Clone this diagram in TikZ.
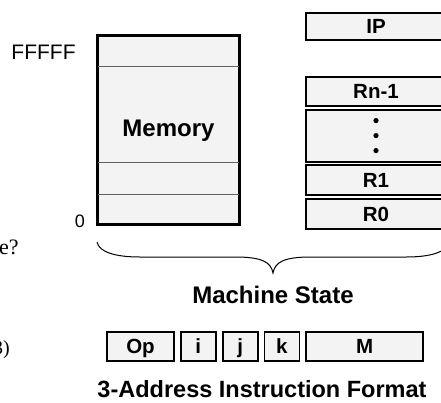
\documentclass[tikz,border=0pt]{standalone}
\usepackage{fontspec}
\setmainfont{Liberation Sans}
\newfontfamily\slidefont{Liberation Serif}
\usetikzlibrary{positioning,calc}
\definecolor{cf}{RGB}{243,243,243}
\definecolor{cl}{RGB}{95,95,95}
\tikzset{
  reg/.style={rectangle,draw=black,fill=cf,line width=1.8pt,inner sep=0pt,
    minimum width=#1,minimum height=29pt,text height=14.5pt,text depth=0pt,
    font=\fontsize{20.5}{22}\selectfont\bfseries},
  reg/.default=140pt,
  fld/.style={rectangle,draw=black,fill=cf,line width=1.8pt,inner sep=0pt,
    minimum width=#1,minimum height=29pt,text height=14.5pt,text depth=0pt,
    font=\fontsize{20.5}{22}\selectfont\bfseries},
  fld/.default=35pt,
  ttl/.style={inner sep=0pt,font=\fontsize{24}{26}\selectfont\bfseries},
  addr/.style={inner sep=0pt,font=\fontsize{#1}{#1}\selectfont},
  addr/.default=20pt,
  brace/.style={line width=1pt,black},
}

\begin{document}
\begin{tikzpicture}[x=1pt,y=-1pt,node distance=1.8pt]
    \useasboundingbox (0,0) rectangle (441,402);
    \node[reg=141pt,minimum height=188pt,text height=17pt,text depth=5pt,
      font=\fontsize{24}{26}\selectfont\bfseries] (mem) at (168.5,130) {Memory};
    \foreach \yy in {66,162,194}
      \draw[cl,line width=1pt] (mem.west |- 0,\yy) -- (mem.east |- 0,\yy);
    \draw[line width=1.8pt] (mem.north west) rectangle (mem.south east);
    \node[addr=21pt] (hi) at (43.5,52) {FFFFF};
    \node[addr=18pt] (lo) at (80,221.5) {0};
    \node[reg,minimum height=27pt] (ip) at (376,26.5) {IP};
    \node[reg] (rn) at (376,91.5) {Rn-1};
    \node[reg,minimum height=52pt,below=of rn] (dots) {};
    \foreach \dy in {-15,0,15}
      \fill ($(dots.center)+(0,\dy)$) circle (2.6pt);
    \node[reg,minimum height=30pt,below=of dots] (r1) {R1};
    \node[reg,minimum height=30pt,below=of r1] (r0) {R0};
    \draw[brace] (97,242) .. controls (99,252) and (115,257) .. (140,257)
      -- (235,257) .. controls (262,257) and (271,262) .. (273,273)
      .. controls (275,262) and (284,257) .. (311,257)
      -- (406,257) .. controls (431,257) and (447,252) .. (449,242);
    \node[ttl] (ms) at (273,295) {Machine State};
    \node[fld=67pt] (op) at (140.5,346.5) {Op};
    \node[fld,right=5pt of op] (fi) {i};
    \node[fld,right=5pt of fi] (fj) {j};
    \node[fld,right=5pt of fj] (fk) {k};
    \node[fld=117pt,right=5pt of fk] (fm) {M};
    \node[ttl,font=\fontsize{23.5}{25}\selectfont\bfseries] (fmt) at (262,389) {3-Address Instruction Format};
    \node[inner sep=0pt,anchor=west,font=\slidefont\fontsize{22}{24}\selectfont] (q) at (-1,247) {e?};
    \node[inner sep=0pt,anchor=east,font=\slidefont\fontsize{20}{22}\selectfont] (p) at (10,350) {3)};
  \end{tikzpicture}
\end{document}
